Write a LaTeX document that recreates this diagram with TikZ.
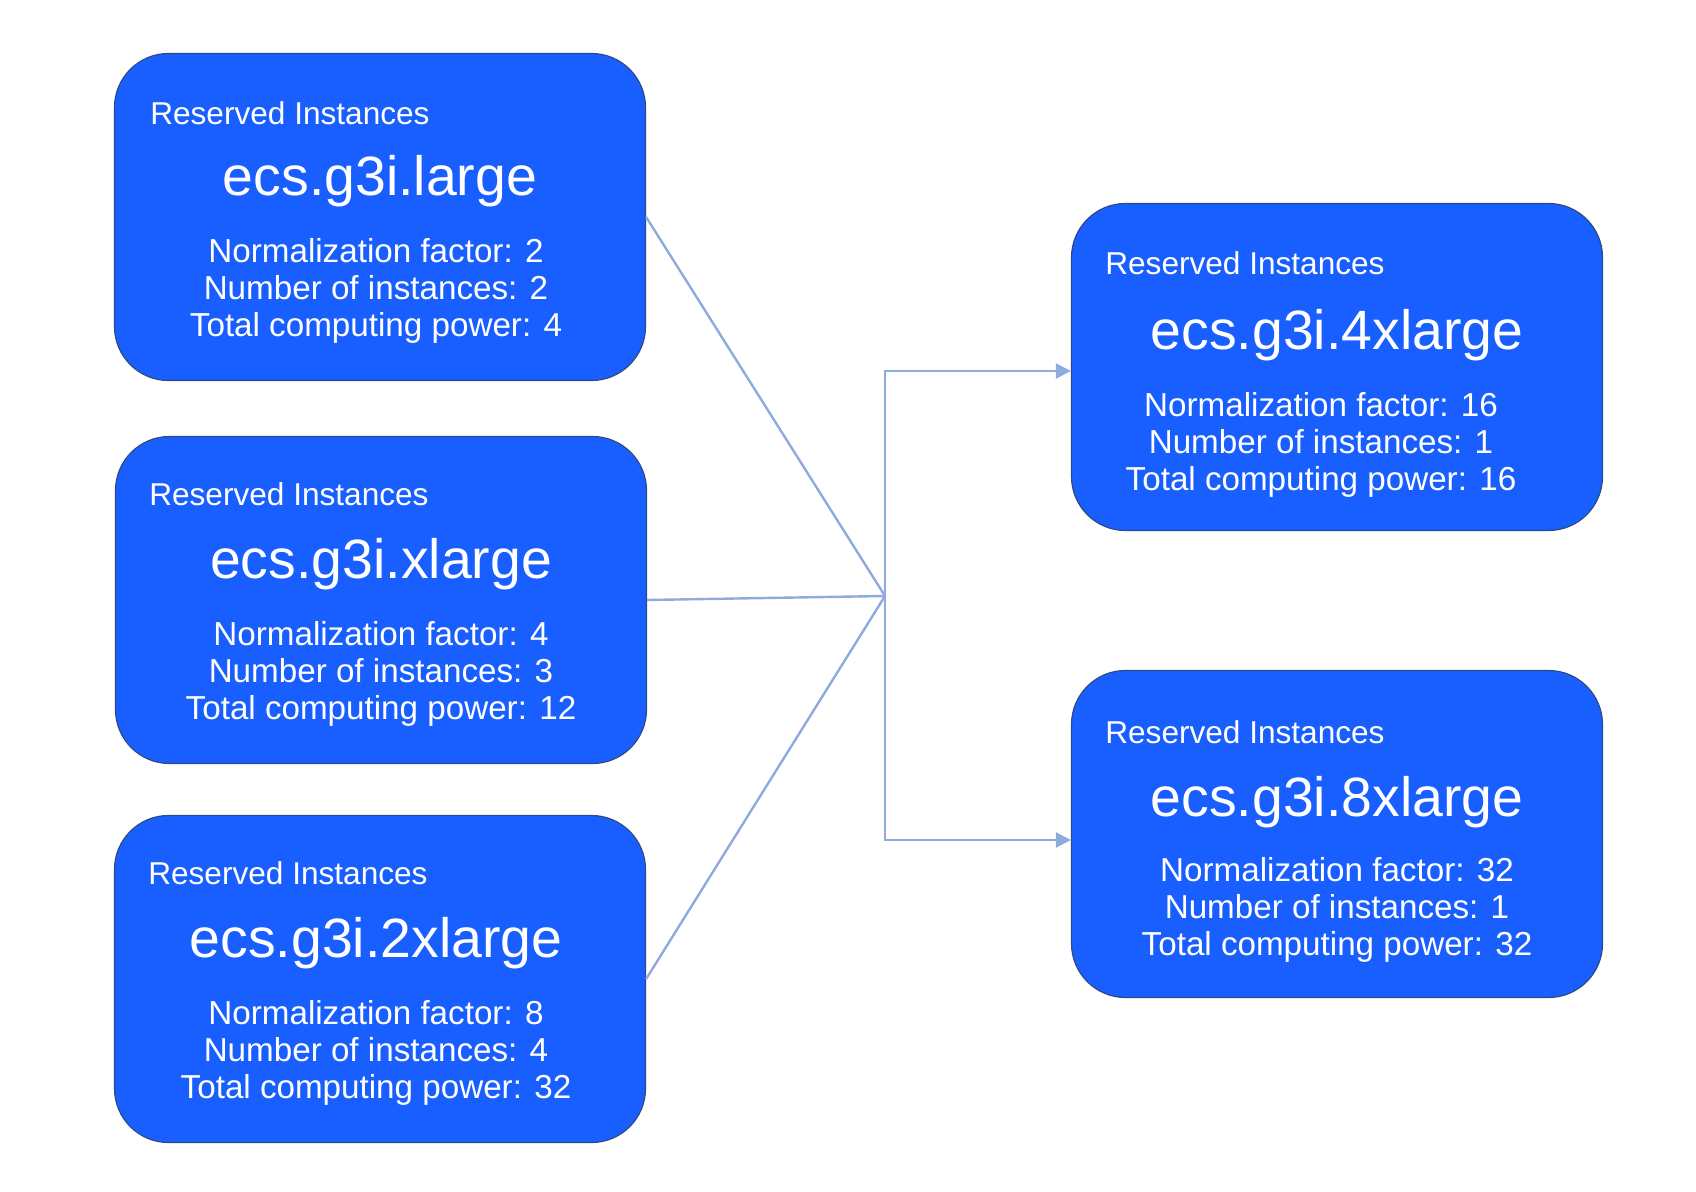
\documentclass[tikz,border=0pt]{standalone}
\usepackage{fontspec}
\setmainfont{Liberation Sans}
\usetikzlibrary{arrows.meta}
\definecolor{riblue}{HTML}{195FFF}
\definecolor{riedge}{HTML}{2C4A88}
\definecolor{link}{HTML}{8FAADC}

\tikzset{
  ribox/.style={draw=riedge, line width=0.6pt, fill=riblue, rounded corners=27pt,
    minimum width=265.5pt, minimum height=163.5pt, inner sep=0pt},
  rihead/.style={text=white, anchor=west, inner sep=0pt, font=\fontsize{15.8}{18}\selectfont},
  rititle/.style={text=white, inner sep=0pt, font=\fontsize{27.7}{32}\selectfont},
  ribody/.style={text=white, inner sep=0pt, align=center, font=\fontsize{16.6}{18.7}\selectfont},
  linkline/.style={link, line width=1.2pt},
  linkarrow/.style={linkline, -{Triangle[length=7.5pt, width=7.5pt]}},
}

\begin{document}
\begin{tikzpicture}[x=0.5pt, y=-0.5pt]
  \useasboundingbox (0,0) rectangle (1696,1192);
  % left column
  \node[ribox] (lg) at (380,217) {};
  \node[rihead] (lgh) at ([xshift=18pt,yshift=-30pt]lg.north west) {Reserved Instances};
  \node[rititle] (lgt) at ([yshift=18pt]lg.center) {ecs.g3i.large};
  \node[ribody] (lgb) at ([xshift=-2pt,yshift=-37pt]lg.center) {Normalization factor: 2\\Number of instances: 2\\Total computing power: 4};

  \node[ribox] (xl) at (381,600) {};
  \node[rihead] (xlh) at ([xshift=17pt,yshift=-29pt]xl.north west) {Reserved Instances};
  \node[rititle] (xlt) at ([yshift=18pt]xl.center) {ecs.g3i.xlarge};
  \node[ribody] (xlb) at ([yshift=-37pt]xl.center) {Normalization factor: 4\\Number of instances: 3\\Total computing power: 12};

  \node[ribox] (xl2) at (380,979) {};
  \node[rihead] (xl2h) at ([xshift=17pt,yshift=-29pt]xl2.north west) {Reserved Instances};
  \node[rititle] (xl2t) at ([xshift=-2pt,yshift=18pt]xl2.center) {ecs.g3i.2xlarge};
  \node[ribody] (xl2b) at ([xshift=-2pt,yshift=-37pt]xl2.center) {Normalization factor: 8\\Number of instances: 4\\Total computing power: 32};

  % right column
  \node[ribox] (xl4) at (1337,367) {};
  \node[rihead] (xl4h) at ([xshift=17pt,yshift=-30pt]xl4.north west) {Reserved Instances};
  \node[rititle] (xl4t) at ([yshift=16pt]xl4.center) {ecs.g3i.4xlarge};
  \node[ribody] (xl4b) at ([xshift=-8pt,yshift=-39pt]xl4.center) {Normalization factor: 16\\Number of instances: 1\\Total computing power: 16};

  \node[ribox] (xl8) at (1337,834) {};
  \node[rihead] (xl8h) at ([xshift=17pt,yshift=-31pt]xl8.north west) {Reserved Instances};
  \node[rititle] (xl8t) at ([yshift=16pt]xl8.center) {ecs.g3i.8xlarge};
  \node[ribody] (xl8b) at ([yshift=-38pt]xl8.center) {Normalization factor: 32\\Number of instances: 1\\Total computing power: 32};

  % connectors
  \coordinate (merge) at (885,596);
  \draw[linkline] (lg.east) -- (merge);
  \draw[linkline] (xl.east) -- (merge);
  \draw[linkline] (xl2.east) -- (merge);
  \draw[linkarrow] (merge) |- ([yshift=-2pt]xl4.west);
  \draw[linkarrow] (merge) |- ([yshift=-3pt]xl8.west);
\end{tikzpicture}
\end{document}
